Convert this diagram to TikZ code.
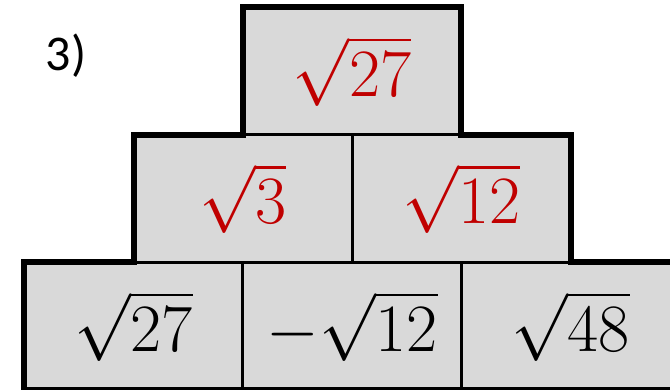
\documentclass[tikz,border=0pt]{standalone}
\usepackage{graphicx}
\usepackage{fontspec}
\usepackage{tikz}
\usetikzlibrary{positioning}
\newfontfamily\labelfont{Carlito}
\definecolor{cellgray}{RGB}{217,217,217}
\definecolor{rootred}{RGB}{192,0,0}
\newcommand{\cellmath}[1]{\scalebox{2.72}{\Huge$#1$}}

\begin{document}
\begin{tikzpicture}[x=1pt, y=-1pt,
  cell/.style={draw, line width=1.5pt, fill=cellgray, minimum width=217pt, minimum height=126pt, inner sep=0pt},
  given/.style={cell, text=black},
  found/.style={cell, text=rootred},
  outline/.style={line width=6pt, line join=miter}]
\clip (0,0) rectangle (670,390);
% bottom row
\node[given] (b1) at (133.5,326) {\cellmath{\sqrt{27}}};
\node[given, right=0pt of b1] (b2) {\cellmath{-\sqrt{12}}};
\node[given, right=0pt of b2] (b3) {\cellmath{\sqrt{48}}};
% middle row
\node[found, anchor=south] (m1) at (b1.north east) {\cellmath{\sqrt{3}}};
\node[found, anchor=south] (m2) at (b2.north east) {\cellmath{\sqrt{12}}};
% top
\node[found, anchor=south] (t) at (m1.north east) {\cellmath{\sqrt{27}}};
\draw[outline] (b1.south west) -- (b1.north west) -- (m1.south west) -- (m1.north west)
  -- (t.south west) -- (t.north west) -- (t.north east) -- (t.south east)
  -- (m2.north east) -- (m2.south east) -- (b3.north east) -- (b3.south east) -- cycle;
\node[font=\labelfont\fontsize{50}{60}\selectfont] (num) at (66,56) {3)};
\end{tikzpicture}
\end{document}
